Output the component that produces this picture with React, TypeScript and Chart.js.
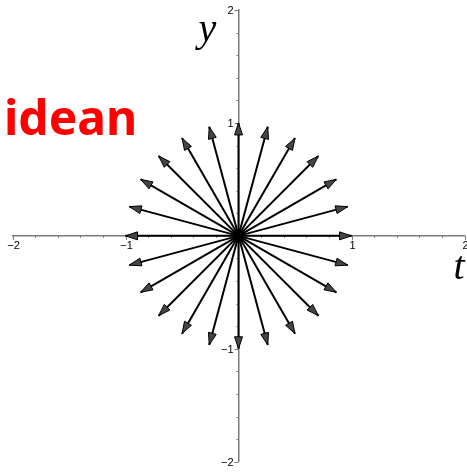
import React, { useEffect, useRef } from "react";
import { Chart, registerables } from "chart.js";

Chart.register(...registerables);

// Tip of each unit vector, every 15 degrees counter-clockwise from the +t axis
const tipX = [1, 0.966, 0.866, 0.707, 0.5, 0.259, 0, -0.259, -0.5, -0.707, -0.866, -0.966,
  -1, -0.966, -0.866, -0.707, -0.5, -0.259, 0, 0.259, 0.5, 0.707, 0.866, 0.966];
const tipY = [0, 0.259, 0.5, 0.707, 0.866, 0.966, 1, 0.966, 0.866, 0.707, 0.5, 0.259,
  0, -0.259, -0.5, -0.707, -0.866, -0.966, -1, -0.966, -0.866, -0.707, -0.5, -0.259];

// Axis range and labelled ticks
const axisMin = -2;
const axisMax = 2;
const labelledTicks = [-2, -1, 1, 2];
const minorStep = 0.2;

const xAxisTitle = "t";
const yAxisTitle = "y";
const caption = "idean";

const AXIS_COLOR = "#7a7a7a";
const LABEL_FONT = "11px 'Liberation Sans', Arial, sans-serif";

const fmt = (v: number) => (v < 0 ? "\u2212" + Math.abs(v) : String(v));

const isLabelled = (v: number) => {
  const r = Math.round(v);
  return Math.abs(v - r) < 1e-6 && labelledTicks.includes(r);
};

// Tick marks and labels for axes that cross at the origin
const crossAxes = {
  id: "crossAxes",
  beforeDatasetsDraw(chart: any) {
    const ctx = chart.ctx;
    const xs = chart.scales.x;
    const ys = chart.scales.y;
    const x0 = xs.getPixelForValue(0);
    const y0 = ys.getPixelForValue(0);
    ctx.save();
    ctx.strokeStyle = AXIS_COLOR;
    ctx.lineWidth = 1;
    ctx.fillStyle = "#000";
    ctx.font = LABEL_FONT;

    xs.ticks.forEach((t: any) => {
      if (Math.abs(t.value) < 1e-6) return;
      const px = Math.round(xs.getPixelForValue(t.value)) + 0.5;
      const major = isLabelled(t.value);
      ctx.beginPath();
      ctx.moveTo(px, y0);
      ctx.lineTo(px, y0 + (major ? 4 : 2));
      ctx.stroke();
      if (major) {
        ctx.textAlign = "center";
        ctx.textBaseline = "top";
        ctx.fillText(fmt(Math.round(t.value)), px, y0 + 5);
      }
    });

    ys.ticks.forEach((t: any) => {
      if (Math.abs(t.value) < 1e-6) return;
      const py = Math.round(ys.getPixelForValue(t.value)) + 0.5;
      const major = isLabelled(t.value);
      ctx.beginPath();
      ctx.moveTo(x0, py);
      ctx.lineTo(x0 - (major ? 4 : 2), py);
      ctx.stroke();
      if (major) {
        ctx.textAlign = "right";
        ctx.textBaseline = "middle";
        ctx.fillText(fmt(Math.round(t.value)), x0 - 5, py);
      }
    });
    ctx.restore();
  },
};

const arrowHeads = {
  id: "arrowHeads",
  afterDatasetsDraw(chart: any) {
    const ctx = chart.ctx;
    ctx.save();
    chart.data.datasets.forEach((_: any, i: number) => {
      const meta = chart.getDatasetMeta(i);
      const a = meta.data[0];
      const b = meta.data[1];
      if (!a || !b) return;
      const dx = b.x - a.x;
      const dy = b.y - a.y;
      const len = Math.hypot(dx, dy);
      const ux = dx / len;
      const uy = dy / len;
      const L = 12;
      const W = 4;
      const bx = b.x - ux * L;
      const by = b.y - uy * L;
      ctx.beginPath();
      ctx.moveTo(b.x, b.y);
      ctx.lineTo(bx - uy * W, by + ux * W);
      ctx.lineTo(bx + uy * W, by - ux * W);
      ctx.closePath();
      ctx.fillStyle = "#454545";
      ctx.fill();
      ctx.lineWidth = 1;
      ctx.strokeStyle = "#000";
      ctx.stroke();
    });
    ctx.restore();
  },
};

const annotations = {
  id: "annotations",
  afterDraw(chart: any) {
    const ctx = chart.ctx;
    const xs = chart.scales.x;
    const ys = chart.scales.y;
    ctx.save();
    ctx.fillStyle = "#000";
    ctx.font = "italic 40px 'Liberation Serif', serif";
    ctx.textBaseline = "alphabetic";
    ctx.textAlign = "center";
    ctx.fillText(yAxisTitle, xs.getPixelForValue(0) - 31, ys.getPixelForValue(2) + 31);
    ctx.textAlign = "left";
    ctx.fillText(xAxisTitle, xs.getPixelForValue(2) - 11, ys.getPixelForValue(0) + 43);
    ctx.fillStyle = "#ff0000";
    ctx.font = "bold 48px 'Noto Sans', sans-serif";
    ctx.fillText(caption, 4, 135);
    ctx.restore();
  },
};

export default function App() {
  const ref = useRef<HTMLCanvasElement | null>(null);

  useEffect(() => {
    if (!ref.current) return;
    const datasets = tipX.map((x, i) => ({
      data: [
        { x: 0, y: 0 },
        { x, y: tipY[i] },
      ],
      showLine: true,
      borderColor: "#000",
      borderWidth: 2,
      pointRadius: 0,
      pointHoverRadius: 0,
    }));

    const axis = (horizontal: boolean) => ({
      type: "linear" as const,
      min: axisMin,
      max: axisMax,
      position: horizontal ? { y: 0 } : { x: 0 },
      border: { display: true, color: AXIS_COLOR, width: 1.5 },
      grid: { display: false, drawOnChartArea: false, drawTicks: false },
      ticks: { display: false, stepSize: minorStep, autoSkip: false },
    });

    const chart = new Chart(ref.current, {
      type: "scatter",
      data: { datasets },
      options: {
        animation: false,
        responsive: true,
        maintainAspectRatio: false,
        layout: { padding: { left: 12.5, right: 2.5, top: 10, bottom: 10.3 } },
        plugins: {
          legend: { display: false },
          tooltip: { enabled: false },
          title: { display: false },
        },
        scales: { x: axis(true), y: axis(false) } as any,
      },
      plugins: [crossAxes, arrowHeads, annotations],
    });
    return () => chart.destroy();
  }, []);

  return (
    <div style={{ position: "fixed", left: 0, top: 0, width: 467, height: 472, background: "#fff" }}>
      <canvas ref={ref} />
    </div>
  );
}
